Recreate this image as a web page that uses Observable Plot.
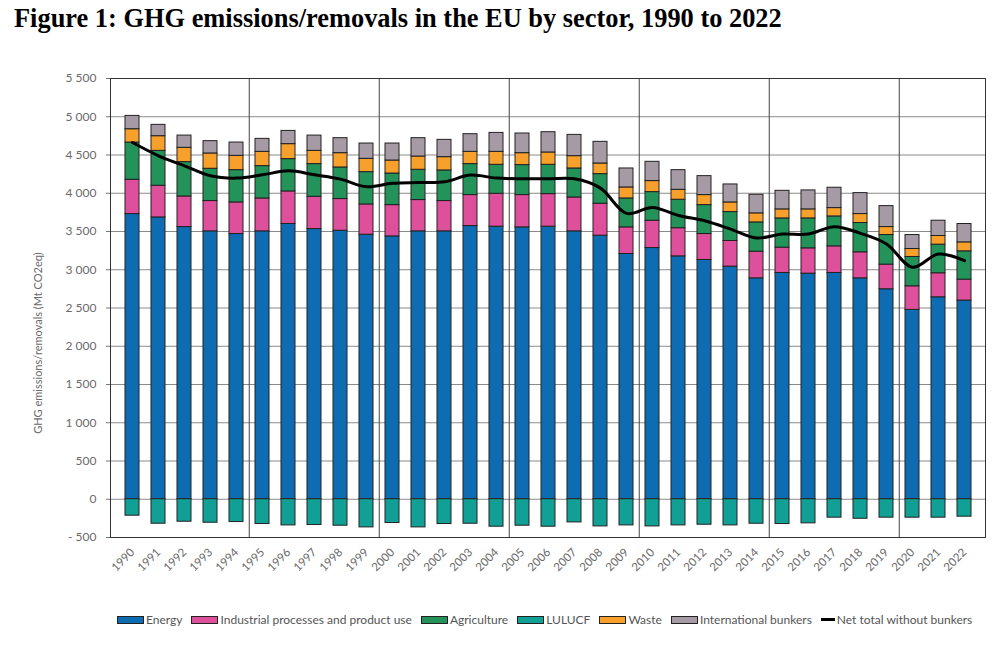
<!DOCTYPE html>
<html><head><meta charset="utf-8">
<script src="https://cdn.jsdelivr.net/npm/d3@7"></script>
<script src="https://cdn.jsdelivr.net/npm/@observablehq/plot@0.6"></script>
<style>
body{margin:0;background:#fff;width:1000px;height:650px;overflow:hidden;position:relative;font-family:Lato,"Open Sans",sans-serif}
#title{position:absolute;left:14px;top:5px;line-height:27px;font-family:"Liberation Serif","Times New Roman",serif;font-weight:bold;font-size:26.4px;color:#000;white-space:nowrap}
#chart{position:absolute;left:0;top:45px}
#legend{position:absolute;left:117px;top:612px;display:flex;align-items:center;font-size:12px;color:#555;white-space:nowrap;font-family:Lato,sans-serif}
.item{display:flex;align-items:center;margin-right:9px}
.sw{width:25px;height:6px;border:1px solid #222;margin-right:2px}
.ln{width:14px;height:3px;background:#000;margin-right:2px}
</style></head>
<body>
<div id="title">Figure 1: GHG emissions/removals in the EU by sector, 1990 to 2022</div>
<div id="chart"></div>
<div id="legend"></div>
<script>
const years = ["1990","1991","1992","1993","1994","1995","1996","1997","1998","1999","2000","2001","2002","2003","2004","2005","2006","2007","2008","2009","2010","2011","2012","2013","2014","2015","2016","2017","2018","2019","2020","2021","2022"];
const sectors = ["Energy","Industrial processes and product use","Agriculture","LULUCF","Waste","International bunkers"];
const colors = ["#0e6cb3","#de4f9c","#24935a","#10a096","#f7a02c","#a69aa5"];
const energy = [3728,3684,3558,3502,3467,3502,3598,3532,3510,3458,3436,3502,3502,3571,3563,3554,3563,3502,3445,3206,3284,3175,3128,3041,2888,2958,2949,2958,2888,2745,2475,2640,2597];
const ippu = [448,414,400,396,413,430,426,422,414,396,409,409,396,405,430,422,426,443,418,348,357,368,339,335,348,331,331,348,340,322,309,314,274];
const agriculture = [487,456,449,422,422,423,422,427,413,422,413,396,400,405,379,392,383,379,387,378,374,372,378,378,383,382,391,391,383,387,383,374,370];
const lulucf = [-215,-320,-294,-307,-298,-324,-342,-337,-346,-368,-311,-368,-324,-320,-359,-346,-359,-303,-355,-342,-355,-342,-333,-342,-320,-324,-315,-241,-255,-241,-241,-241,-228];
const waste = [174,192,187,200,187,186,196,173,187,174,170,173,174,160,169,156,161,161,139,144,144,130,131,126,118,118,118,109,117,104,104,113,117];
const bunkers = [174,148,160,161,174,170,173,200,196,200,222,240,226,231,248,257,265,278,283,248,252,257,248,235,243,243,248,266,274,274,183,200,240];
const netTotal = [4663,4490,4359,4228,4198,4241,4293,4241,4185,4085,4130,4141,4150,4237,4198,4189,4189,4189,4067,3737,3815,3710,3641,3532,3415,3467,3467,3563,3476,3337,3032,3206,3119];
const yTicks = [-500,0,500,1000,1500,2000,2500,3000,3500,4000,4500,5000,5500];
const separatorYears = ["1995","2000","2005","2010","2015","2020"];
const yLabel = "GHG emissions/removals (Mt CO2eq)";
const netLabel = "Net total without bunkers";

const series = [energy, ippu, agriculture, lulucf, waste, bunkers];
const rows = [];
years.forEach((y, i) => series.forEach((s, k) => rows.push({year: y, sector: sectors[k], value: s[i]})));
const netRows = years.map((y, i) => ({year: y, value: netTotal[i]}));

const W = 1000, H = 547, ML = 110, MR = 15, MT = 33, MB = 55;
const step = (W - ML - MR) / years.length;
const fmt0 = d3.formatLocale({decimal: ".", thousands: " ", grouping: [3], currency: ["", ""]}).format(",");
const fmt = v => v < 0 ? "- " + fmt0(-v) : fmt0(v);
const grey = "#6a6a6a";

const chart = Plot.plot({
  width: W, height: H,
  marginLeft: ML, marginRight: MR, marginTop: MT, marginBottom: MB,
  style: {fontFamily: "Lato, sans-serif", background: "#fff"},
  x: {type: "band", domain: years, paddingInner: 0.48, paddingOuter: 0.24, axis: null},
  y: {domain: [-500, 5500], axis: null},
  color: {domain: sectors, range: colors},
  marks: [
    Plot.gridY(yTicks, {stroke: "#8a8a8a", strokeOpacity: 1}),
    Plot.ruleX(separatorYears, {dx: -step / 2, stroke: "#444", strokeWidth: 1}),
    Plot.barY(rows, {x: "year", y: "value", fill: "sector", stroke: "#222", strokeWidth: 1}),
    Plot.line(netRows, {x: "year", y: "value", stroke: "#000", strokeWidth: 3, curve: "catmull-rom"}),
    Plot.frame({stroke: "#333"}),
    Plot.axisY({ticks: yTicks, tickFormat: fmt, tickSize: 4, tickPadding: 10, fontSize: 12, color: grey, stroke: "#777", label: null}),
    Plot.axisX({tickRotate: -45, tickSize: 0, tickPadding: 13, fontSize: 11.5, color: grey, label: null}),
    Plot.text([yLabel], {text: d => d, frameAnchor: "left", textAnchor: "middle", dx: -72, dy: 35, rotate: -90, fill: grey, fontSize: 11})
  ]
});
document.getElementById("chart").appendChild(chart);

const legend = document.getElementById("legend");
sectors.forEach((s, i) => {
  const it = document.createElement("div"); it.className = "item";
  const sw = document.createElement("div"); sw.className = "sw"; sw.style.background = colors[i];
  const t = document.createElement("span"); t.textContent = s;
  it.append(sw, t); legend.append(it);
});
const it = document.createElement("div"); it.className = "item";
const ln = document.createElement("div"); ln.className = "ln";
const t = document.createElement("span"); t.textContent = netLabel;
it.append(ln, t); legend.append(it);
</script>
</body></html>
